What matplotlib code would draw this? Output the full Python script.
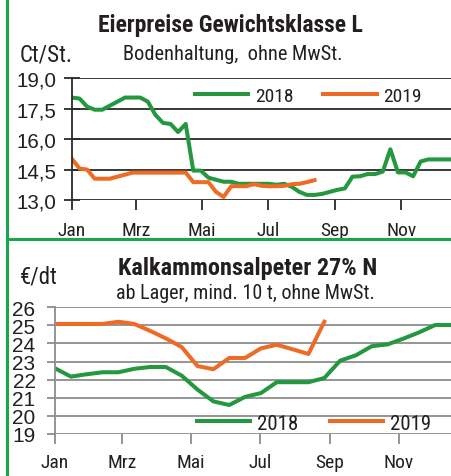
# plot.py
# Eierpreise / Kalkammonsalpeter - Vergleich 2018 vs 2019

import matplotlib
matplotlib.use('Agg')
import matplotlib.pyplot as plt
from matplotlib import font_manager
from matplotlib.lines import Line2D

# --- data -----------------------------------------------------------------
# Eierpreise, weekly (week 1 = Jan 1), Ct/St.
egg_2018 = [18.05, 18.0, 17.6, 17.45, 17.45, 17.65, 17.85, 18.05, 18.05, 18.05,
            17.85, 17.2, 16.8, 16.75, 16.35, 16.75, 14.45, 14.45, 14.1, 14.0,
            13.9, 13.9, 13.8, 13.8, 13.8, 13.8, 13.8, 13.75, 13.8, 13.65,
            13.4, 13.25, 13.25, 13.3, 13.4, 13.5, 13.57, 14.15, 14.17, 14.28,
            14.28, 14.4, 15.5, 14.36, 14.36, 14.17, 14.9, 15.0, 15.0, 15.0, 15.0]
egg_2019 = [15.02, 14.55, 14.5, 14.05, 14.05, 14.05, 14.15, 14.25, 14.35, 14.35,
            14.35, 14.35, 14.35, 14.35, 14.35, 14.35, 13.88, 13.88, 13.88, 13.4,
            13.15, 13.68, 13.68, 13.68, 13.78, 13.7, 13.68, 13.68, 13.7, 13.78,
            13.8, 13.88, 13.98]

# Kalkammonsalpeter 27% N, every two weeks, EUR/dt
kas_2018 = [22.63, 22.17, 22.3, 22.41, 22.41, 22.6, 22.7, 22.7, 22.22, 21.45,
            20.8, 20.6, 21.05, 21.26, 21.86, 21.86, 21.86, 22.09, 23.05, 23.35,
            23.85, 23.95, 24.27, 24.62, 25.02, 25.02]
kas_2019 = [25.08, 25.08, 25.08, 25.08, 25.2, 25.08, 24.7, 24.28, 23.8, 22.75,
            22.58, 23.2, 23.2, 23.73, 23.93, 23.68, 23.42, 25.2]

month_labels = ['Jan', 'Mrz', 'Mai', 'Jul', 'Sep', 'Nov']
month_days = [0, 59, 120, 181, 243, 304]   # day of year for the 1st

egg_ticks = [13.0, 14.5, 16.0, 17.5, 19.0]
kas_ticks = [19, 20, 21, 22, 23, 24, 25, 26]

GREEN = '#23983f'
ORANGE = '#ee6b26'
BORDER = '#17a84a'
TXT = '#231f20'

# condensed font for titles, Helvetica-like one for the numbers
names = {f.name for f in font_manager.fontManager.ttflist}
COND = 'DejaVu Sans'
for cand in ['Liberation Sans Narrow', 'Roboto Condensed', 'Liberation Sans', 'Roboto']:
    if cand in names:
        COND = cand
        break
NUM = 'Liberation Sans' if 'Liberation Sans' in names else 'DejaVu Sans'
plt.rcParams['font.family'] = [COND, 'DejaVu Sans']
plt.rcParams['text.color'] = TXT


def days(vals, step):
    return [i * step for i in range(len(vals))]


fig = plt.figure(figsize=(4.51, 4.77), dpi=100)
fig.patch.set_facecolor('white')

# ---- top panel: Eierpreise ----
ax1 = fig.add_axes([0.1596, 0.5786, 0.8404, 0.2552])
ax1.plot(days(egg_2018, 7), egg_2018, color=GREEN, lw=2.9, label='2018',
         solid_joinstyle='round')
ax1.plot(days(egg_2019, 7), egg_2019, color=ORANGE, lw=2.9, label='2019',
         solid_joinstyle='round')
ax1.set_xlim(0, 350)
ax1.set_ylim(13.0, 19.0)
ax1.set_yticks(egg_ticks)
ax1.set_yticklabels([f'{v:.1f}'.replace('.', ',') for v in egg_ticks],
                    fontfamily=NUM, fontsize=14.8)
ax1.set_xticks(month_days)
ax1.set_xticklabels(month_labels, fontsize=14)
for y in egg_ticks:
    ax1.axhline(y, color='#2a2a2a', lw=1.3, zorder=0)
for s in ['top', 'right', 'bottom']:
    ax1.spines[s].set_visible(False)
ax1.spines['left'].set_color('#2a2a2a')
ax1.spines['left'].set_linewidth(1.3)
ax1.tick_params(axis='y', direction='inout', length=11, width=1.3, color='#2a2a2a',
                pad=6, labelcolor=TXT)
ax1.tick_params(axis='x', direction='out', length=7, width=1.3, color='#2a2a2a',
                pad=8, labelcolor=TXT)
ax1.legend(loc='center left', bbox_to_anchor=(0.3245, 0.855), ncol=2, frameon=False,
           fontsize=14, handlelength=2.75, handletextpad=0.36, columnspacing=1.5,
           borderpad=0, borderaxespad=0)

fig.text(0.512, 0.9323, 'Eierpreise Gewichtsklasse L', ha='center', va='baseline',
         fontsize=17, fontweight='bold')
fig.text(0.516, 0.8742, 'Bodenhaltung,  ohne MwSt.', ha='center', va='baseline',
         fontsize=14.7)
fig.text(0.044, 0.8707, 'Ct/St.', ha='left', va='baseline', fontsize=16.5)

# ---- bottom panel: Kalkammonsalpeter ----
ax2 = fig.add_axes([0.122, 0.0881, 0.878, 0.2656])
ax2.plot(days(kas_2018, 14), kas_2018, color=GREEN, lw=2.9, label='2018',
         solid_joinstyle='round')
ax2.plot(days(kas_2019, 14), kas_2019, color=ORANGE, lw=2.9, label='2019',
         solid_joinstyle='round')
ax2.set_xlim(0, 350)
ax2.set_ylim(19, 26)
ax2.set_yticks(kas_ticks)
ax2.set_yticklabels([str(v) for v in kas_ticks], fontfamily=NUM, fontsize=15)
ax2.set_xticks(month_days)
ax2.set_xticklabels(month_labels, fontsize=14)
for y in kas_ticks:
    ax2.axhline(y, color='#8c8c8c', lw=1.3, zorder=0)
for s in ['top', 'right', 'bottom']:
    ax2.spines[s].set_visible(False)
ax2.spines['left'].set_color('#8c8c8c')
ax2.spines['left'].set_linewidth(1.3)
ax2.tick_params(axis='y', direction='out', length=6, width=1.3, color='#8c8c8c',
                pad=8, labelcolor=TXT)
ax2.tick_params(axis='x', direction='out', length=7, width=1.3, color='#8c8c8c',
                pad=7, labelcolor=TXT)
ax2.legend(loc='center left', bbox_to_anchor=(0.3586, 0.0845), ncol=2, frameon=False,
           fontsize=15, handlelength=2.55, handletextpad=0.32, columnspacing=1.55,
           borderpad=0, borderaxespad=0)

fig.text(0.549, 0.4235, 'Kalkammonsalpeter 27% N', ha='center', va='baseline',
         fontsize=17.5, fontweight='bold')
fig.text(0.544, 0.3725, 'ab Lager, mind. 10 t, ohne MwSt.', ha='center', va='baseline',
         fontsize=14.5)
fig.text(0.044, 0.406, '€/dt', ha='left', va='baseline', fontsize=16.5)

# green frame: left edge + divider
fig.add_artist(Line2D([0.0166, 0.0166], [0, 1], transform=fig.transFigure,
                      color=BORDER, lw=2.2))
fig.add_artist(Line2D([0.0166, 1], [0.4969, 0.4969], transform=fig.transFigure,
                      color=BORDER, lw=2.2))

fig.savefig('out.png', dpi=100)
